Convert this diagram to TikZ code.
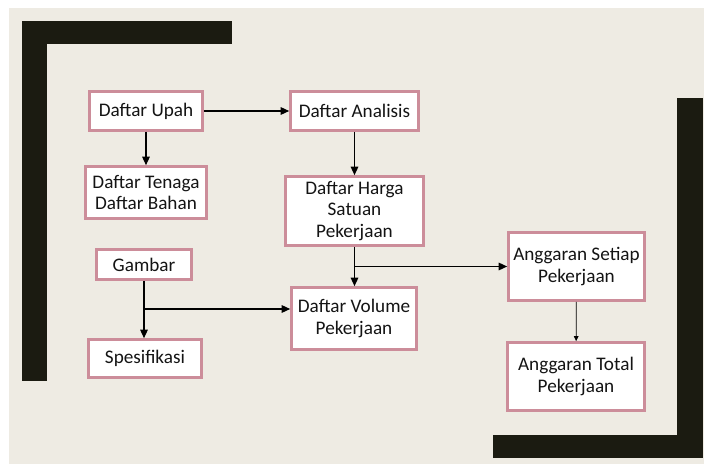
\documentclass[tikz,border=0pt]{standalone}
\usepackage{fontspec}
\setmainfont{Carlito}
\usetikzlibrary{arrows.meta,calc}
\definecolor{bgbeige}{HTML}{EEEBE3}
\definecolor{barblack}{HTML}{1B1B11}
\definecolor{boxpink}{HTML}{CC8D9A}
\tikzset{
  box/.style={draw=boxpink, line width=2.6bp, fill=white, align=center, inner sep=0pt,
    font=\fontsize{19.2bp}{21.5bp}\selectfont, text=black!92},
  arr/.style={line width=1.4bp, -{Triangle[length=8.5bp,width=7.5bp]}},
  thinarr/.style={line width=0.7bp, -{Triangle[length=5bp,width=4.5bp]}},
  bar/.style={fill=barblack, draw=none}
}
\begin{document}
\begin{tikzpicture}[x=1bp,y=-1bp]
\useasboundingbox (0,0) rectangle (709,465);
\fill[white] (0,0) rectangle (709,465);
\fill[bgbeige] (9,8) rectangle (704,464);
% brackets
\fill[bar] (22,21) rectangle (232,44);
\fill[bar] (22,21) rectangle (47,381);
\fill[bar] (677,98) rectangle (703,458);
\fill[bar] (493,435) rectangle (703,458);
% boxes
\node[box, minimum width=113bp, minimum height=39bp] (upah) at (146,111) {Daftar Upah};
\node[box, minimum width=128bp, minimum height=39bp] (analisis) at (354.5,111) {Daftar Analisis};
\node[box, minimum width=121bp, minimum height=52bp] (tenaga) at (146,192.5) {Daftar Tenaga\\Daftar Bahan};
\node[box, minimum width=138bp, minimum height=69bp] (harga) at (354.5,211) {Daftar Harga\\Satuan\\Pekerjaan};
\node[box, minimum width=95bp, minimum height=30bp] (gambar) at (144,264.5) {Gambar};
\node[box, minimum width=113bp, minimum height=38bp] (spes) at (145,358.5) {Spesifikasi};
\node[box, minimum width=125bp, minimum height=62bp] (volume) at (354,318.5) {Daftar Volume\\Pekerjaan};
\node[box, minimum width=136bp, minimum height=68bp] (setiap) at (576.5,266.5) {Anggaran Setiap\\Pekerjaan};
\node[box, minimum width=137bp, minimum height=68bp] (total) at (576,376.5) {Anggaran Total\\Pekerjaan};
% connectors
\draw[arr] (upah) -- (tenaga);
\draw[arr] (upah) -- (analisis);
\draw[arr] (analisis) -- (harga);
\draw[arr] (harga.south) -- (harga.south |- volume.north);
\coordinate (j1) at (harga.south |- setiap.west);
\draw[arr] (j1) -- (setiap.west);
\draw[arr] (gambar.south) -- (gambar.south |- spes.north);
\coordinate (j2) at (145,309);
\draw[arr] (j2) -- (j2 -| volume.west);
\draw[thinarr] (setiap) -- (total);
\end{tikzpicture}
\end{document}
